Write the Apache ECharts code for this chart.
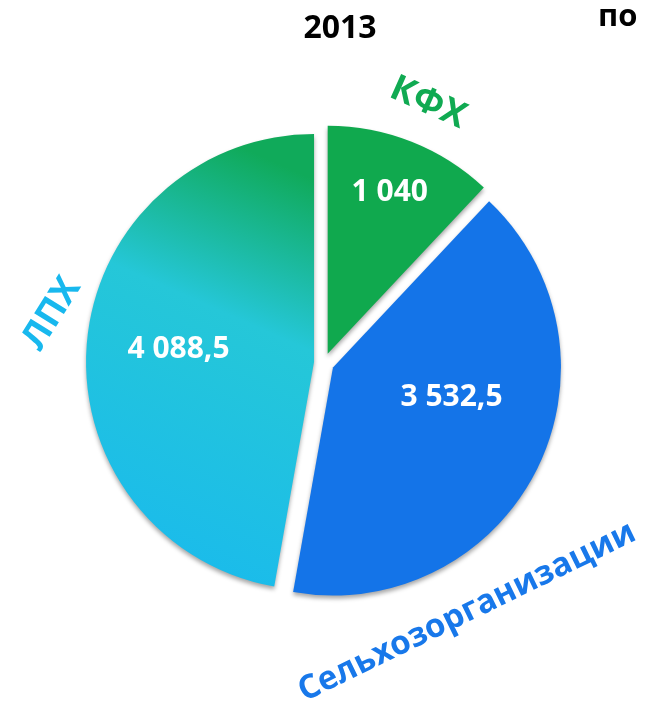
<!DOCTYPE html>
<html>
<head>
<meta charset="utf-8">
<script src="https://cdn.jsdelivr.net/npm/echarts@6/dist/echarts.min.js"></script>
<style>
  html, body { margin: 0; padding: 0; background: #fff; }
  #main { width: 648px; height: 706px; }
</style>
</head>
<body>
<div id="main"></div>
<script>
// data
var categories = ['КФХ', 'Сельхозорганизации', 'ЛПХ'];
var values = [1040, 3532.5, 4088.5];
var valueLabels = ['1 040', '3 532,5', '4 088,5'];
var title = '2013';

var colors = [
	'#10a94e',
	'#1474e8',
	new echarts.graphic.LinearGradient(0.3, 0.9, 1, 0.1, [
		{ offset: 0, color: '#1bbcea' },
		{ offset: 0.6, color: '#25c7d8' },
		{ offset: 1, color: '#10aa5a' }
	])
];
var nameColors = ['#10aa52', '#1878ea', '#18b8ee'];
// nudges of the value labels from the default 'inside' spot
var labelShift = [[19, -52], [14, -22], [-19, -2]];
var explode = [10, 18, 10];

var seriesData = [];
for (var i = 0; i < categories.length; i++) {
	seriesData.push({
		name: categories[i],
		value: values[i],
		selected: true,
		selectedOffset: explode[i],
		itemStyle: { color: colors[i] }
	});
}

var font = '"Open Sans", "Noto Sans", sans-serif';

var myChart = echarts.init(document.getElementById('main'));
var option = {
	animation: false,
	title: {
		text: title,
		left: 335,
		top: 8,
		textAlign: 'center',
		textStyle: { fontFamily: font, fontSize: 32, fontWeight: 'bold', color: '#000' }
	},
	graphic: [
		{ type: 'text', left: 598, top: 2, style: { text: 'по', fontFamily: font, fontSize: 31, fontWeight: 'bold', fill: '#000' } },
		{ type: 'text', x: 428, y: 103, rotation: -24 * Math.PI / 180,
		  style: { text: categories[0], fontFamily: font, fontSize: 36, fontWeight: 'bold', fill: nameColors[0], align: 'center', verticalAlign: 'middle' } },
		{ type: 'text', x: 467, y: 612, rotation: 26 * Math.PI / 180,
		  style: { text: categories[1], fontFamily: font, fontSize: 33, fontWeight: 'bold', fill: nameColors[1], align: 'center', verticalAlign: 'middle' } },
		{ type: 'text', x: 52, y: 314, rotation: 58 * Math.PI / 180,
		  style: { text: categories[2], fontFamily: font, fontSize: 36, fontWeight: 'bold', fill: nameColors[2], align: 'center', verticalAlign: 'middle' } }
	],
	series: [
		{
			type: 'pie',
			center: [324, 363],
			radius: [0, 228],
			startAngle: 90,
			clockwise: true,
			selectedMode: 'multiple',
			selectedOffset: 10,
			emphasis: { disabled: true },
			itemStyle: {
				borderWidth: 0,
				shadowColor: 'rgba(0,0,0,0.35)',
				shadowBlur: 4,
				shadowOffsetY: 3
			},
			label: {
				show: true,
				position: 'inside',
				formatter: function (p) { return valueLabels[p.dataIndex]; },
				fontFamily: font,
				fontSize: 30,
				fontWeight: 'bold',
				color: '#fff'
			},
			labelLine: { show: false },
			labelLayout: function (p) {
				return { dx: labelShift[p.dataIndex][0], dy: labelShift[p.dataIndex][1] };
			},
			data: seriesData
		}
	]
};
myChart.setOption(option);
</script>
</body>
</html>
